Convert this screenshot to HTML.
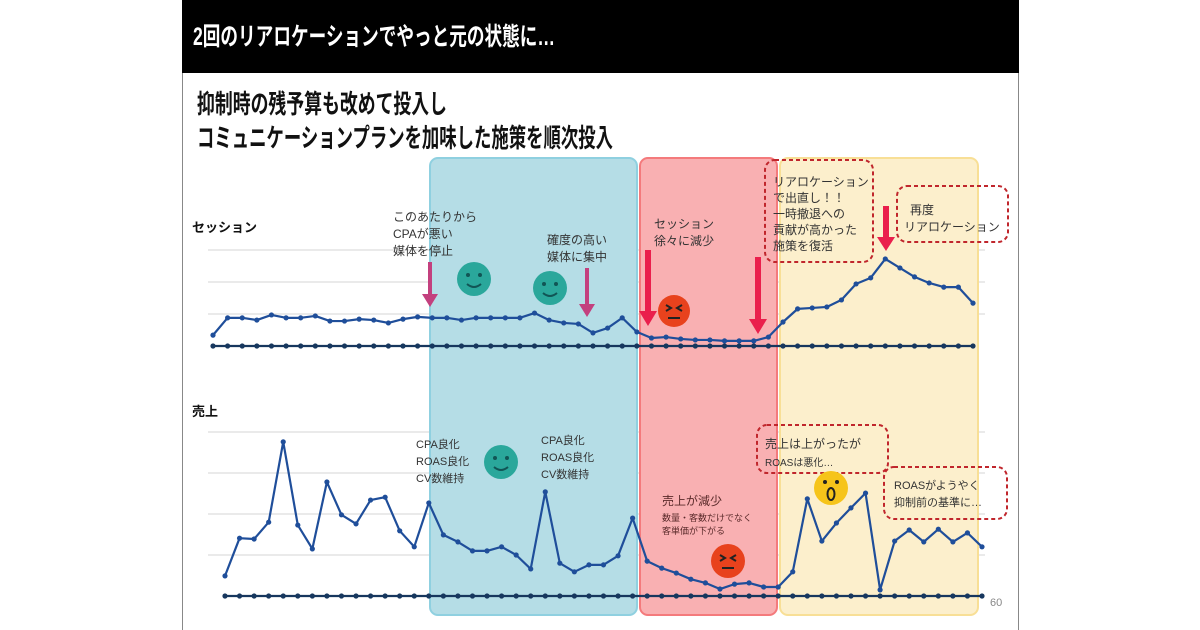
<!DOCTYPE html>
<html><head><meta charset="utf-8">
<style>
html,body{margin:0;padding:0;background:#fff;}
svg{display:block;font-family:"Liberation Sans","Noto Sans CJK JP",sans-serif;}
</style></head>
<body>
<svg id="chart" width="1200" height="630" viewBox="0 0 1200 630" xmlns="http://www.w3.org/2000/svg">
  <rect x="0" y="0" width="1200" height="630" fill="#fff"/>
  <rect x="182" y="0" width="837" height="73" fill="#000"/>
  <line x1="182.5" y1="73" x2="182.5" y2="630" stroke="#888"/>
  <line x1="1018.5" y1="73" x2="1018.5" y2="630" stroke="#888"/>
  <text x="193" y="45" fill="#fff" font-size="25" font-weight="bold" textLength="362" lengthAdjust="spacingAndGlyphs">2回のリアロケーションでやっと元の状態に…</text>
  <text x="197" y="113" fill="#111" font-size="26" font-weight="bold" textLength="250" lengthAdjust="spacingAndGlyphs">抑制時の残予算も改めて投入し</text>
  <text x="197" y="147" fill="#111" font-size="26" font-weight="bold" textLength="416" lengthAdjust="spacingAndGlyphs">コミュニケーションプランを加味した施策を順次投入</text>

  <g id="grid"></g>

  <rect x="430" y="158" width="207" height="457" rx="8" fill="#b5dde6" stroke="#8fd0e0" stroke-width="2"/>
  <rect x="640" y="158" width="137" height="457" rx="8" fill="#f9b0b2" stroke="#f47a7c" stroke-width="2"/>
  <rect x="780" y="158" width="198" height="457" rx="8" fill="#fcefcc" stroke="#f8df96" stroke-width="2"/>

  <g id="series"></g>

  <text x="192" y="232" font-size="13" font-weight="bold" fill="#111">セッション</text>
  <text x="192" y="416" font-size="13" font-weight="bold" fill="#111">売上</text>
  <text x="990" y="606" font-size="11" fill="#888">60</text>

  <g font-size="12" fill="#333">
    <text x="393" y="221"><tspan x="393">このあたりから</tspan><tspan x="393" dy="17">CPAが悪い</tspan><tspan x="393" dy="17">媒体を停止</tspan></text>
    <text x="547" y="244"><tspan x="547">確度の高い</tspan><tspan x="547" dy="17">媒体に集中</tspan></text>
    <text x="654" y="228"><tspan x="654">セッション</tspan><tspan x="654" dy="17">徐々に減少</tspan></text>
    <rect x="765" y="160" width="108" height="102" rx="10" fill="none" stroke="#c0262c" stroke-width="2" stroke-dasharray="4,3"/>
    <text x="773" y="186"><tspan x="773">リアロケーション</tspan><tspan x="773" dy="16">で出直し！！</tspan><tspan x="773" dy="16">一時撤退への</tspan><tspan x="773" dy="16">貢献が高かった</tspan><tspan x="773" dy="16">施策を復活</tspan></text>
    <rect x="897" y="186" width="111" height="56" rx="10" fill="none" stroke="#c0262c" stroke-width="2" stroke-dasharray="4,3"/>
    <text x="910" y="214"><tspan x="910">再度</tspan><tspan x="904" dy="17">リアロケーション</tspan></text>
    <text x="416" y="448" font-size="11"><tspan x="416">CPA良化</tspan><tspan x="416" dy="17">ROAS良化</tspan><tspan x="416" dy="17">CV数維持</tspan></text>
    <text x="541" y="444" font-size="11"><tspan x="541">CPA良化</tspan><tspan x="541" dy="17">ROAS良化</tspan><tspan x="541" dy="17">CV数維持</tspan></text>
    <text x="662" y="505" font-size="12" fill="#5a2a2a">売上が減少</text>
    <text x="662" y="521" font-size="9" fill="#5a2a2a"><tspan x="662">数量・客数だけでなく</tspan><tspan x="662" dy="13">客単価が下がる</tspan></text>
    <rect x="757" y="425" width="131" height="48" rx="10" fill="none" stroke="#c0262c" stroke-width="2" stroke-dasharray="4,3"/>
    <text x="765" y="448">売上は上がったが</text>
    <text x="765" y="466" font-size="10">ROASは悪化…</text>
    <rect x="884" y="467" width="123" height="52" rx="10" fill="none" stroke="#c0262c" stroke-width="2" stroke-dasharray="4,3"/>
    <text x="894" y="489" font-size="11"><tspan x="894">ROASがようやく</tspan><tspan x="894" dy="17">抑制前の基準に…</tspan></text>
  </g>

  <g>
    <path d="M428 262 v32 h-6 l8 13 l8 -13 h-6 v-32z" fill="#c3407e"/>
    <path d="M585 268 v36 h-6 l8 13 l8 -13 h-6 v-36z" fill="#c3407e"/>
    <path d="M645 250 v61 h-6 l9 15 l9 -15 h-6 v-61z" fill="#ea1f4c"/>
    <path d="M755 257 v62 h-6 l9 15 l9 -15 h-6 v-62z" fill="#ea1f4c"/>
    <path d="M883 206 v31 h-6 l9 14 l9 -14 h-6 v-31z" fill="#ea1f4c"/>
  </g>

  <g>
    <g><circle cx="474" cy="279" r="17" fill="#2aa79b"/><circle cx="468" cy="275" r="2" fill="#155"/><circle cx="480" cy="275" r="2" fill="#155"/><path d="M467 284 q7 6 14 0" stroke="#155" stroke-width="2" fill="none"/></g>
    <g><circle cx="550" cy="288" r="17" fill="#2aa79b"/><circle cx="544" cy="284" r="2" fill="#155"/><circle cx="556" cy="284" r="2" fill="#155"/><path d="M543 293 q7 6 14 0" stroke="#155" stroke-width="2" fill="none"/></g>
    <g><circle cx="501" cy="462" r="17" fill="#2aa79b"/><circle cx="495" cy="458" r="2" fill="#155"/><circle cx="507" cy="458" r="2" fill="#155"/><path d="M494 467 q7 6 14 0" stroke="#155" stroke-width="2" fill="none"/></g>
    <g><circle cx="674" cy="311" r="16" fill="#e8421d"/><path d="M666 305 l5 3 l-5 3 M682 305 l-5 3 l5 3 M668 318 h12" stroke="#222" stroke-width="2" fill="none"/></g>
    <g><circle cx="728" cy="561" r="17" fill="#e8421d"/><path d="M720 555 l5 3 l-5 3 M736 555 l-5 3 l5 3 M722 568 h12" stroke="#222" stroke-width="2" fill="none"/></g>
    <g><circle cx="831" cy="488" r="17" fill="#f6c41a"/><circle cx="825" cy="482" r="2" fill="#222"/><circle cx="837" cy="482" r="2" fill="#222"/><ellipse cx="831" cy="494" rx="3.5" ry="6" fill="none" stroke="#222" stroke-width="2"/></g>
  </g>
</svg>
<script>
const sessionValues = [34,88,88,81,97,88,88,94,78,78,84,81,72,84,91,88,88,81,88,88,88,88,103,81,72,69,41,56,88,44,25,28,22,19,19,16,16,16,28,75,116,119,122,144,194,213,272,244,216,197,184,184,134];
const salesValues = [49,141,139,180,376,173,115,278,198,176,234,241,159,120,227,149,132,110,110,120,100,66,254,80,59,76,76,98,190,85,68,56,41,32,17,29,32,22,22,59,237,134,178,215,251,15,134,161,132,163,132,154,120];
const sessionGridValues = [100,200,300];
const salesGridValues = [100,200,300,400];

const NS = 'http://www.w3.org/2000/svg';
function sessX(i){ return 213 + i * (973 - 213) / (sessionValues.length - 1); }
function sessY(v){ return 346 - v * 0.32; }
function salesX(i){ return 225 + i * (982 - 225) / (salesValues.length - 1); }
function salesY(v){ return 596 - v * 0.41; }

const grid = document.getElementById('grid');
const series = document.getElementById('series');

sessionGridValues.forEach(function(v){
  const l = document.createElementNS(NS, 'line');
  l.setAttribute('x1', 208); l.setAttribute('x2', 985);
  l.setAttribute('y1', sessY(v)); l.setAttribute('y2', sessY(v));
  l.setAttribute('stroke', '#e4e4e4'); l.setAttribute('stroke-width', 1.5);
  
  
  grid.appendChild(l);
});
salesGridValues.forEach(function(v){
  const l = document.createElementNS(NS, 'line');
  l.setAttribute('x1', 208); l.setAttribute('x2', 985);
  l.setAttribute('y1', salesY(v)); l.setAttribute('y2', salesY(v));
  l.setAttribute('stroke', '#e4e4e4'); l.setAttribute('stroke-width', 1.5);
  
  
  grid.appendChild(l);
});

function drawSeries(vals, fx, fy, color, name){
  const p = document.createElementNS(NS, 'polyline');
  p.setAttribute('points', vals.map(function(v,i){ return fx(i) + ',' + fy(v); }).join(' '));
  p.setAttribute('fill', 'none'); p.setAttribute('stroke', color); p.setAttribute('stroke-width', 2.2);
  p.setAttribute('stroke-linejoin', 'round');
  
  
  series.appendChild(p);
  vals.forEach(function(v,i){
    const c = document.createElementNS(NS, 'circle');
    c.setAttribute('cx', fx(i)); c.setAttribute('cy', fy(v)); c.setAttribute('r', 2.6);
    c.setAttribute('fill', color);
    
    
    series.appendChild(c);
  });
}
const sessionBase = sessionValues.map(function(){ return 0; });
const salesBase = salesValues.map(function(){ return 0; });
drawSeries(sessionBase, sessX, sessY, '#17375e', 'session-baseline');
drawSeries(salesBase, salesX, salesY, '#17375e', 'sales-baseline');
drawSeries(sessionValues, sessX, sessY, '#1f4e9a', 'session');
drawSeries(salesValues, salesX, salesY, '#1f4e9a', 'sales');
</script>
</body></html>
